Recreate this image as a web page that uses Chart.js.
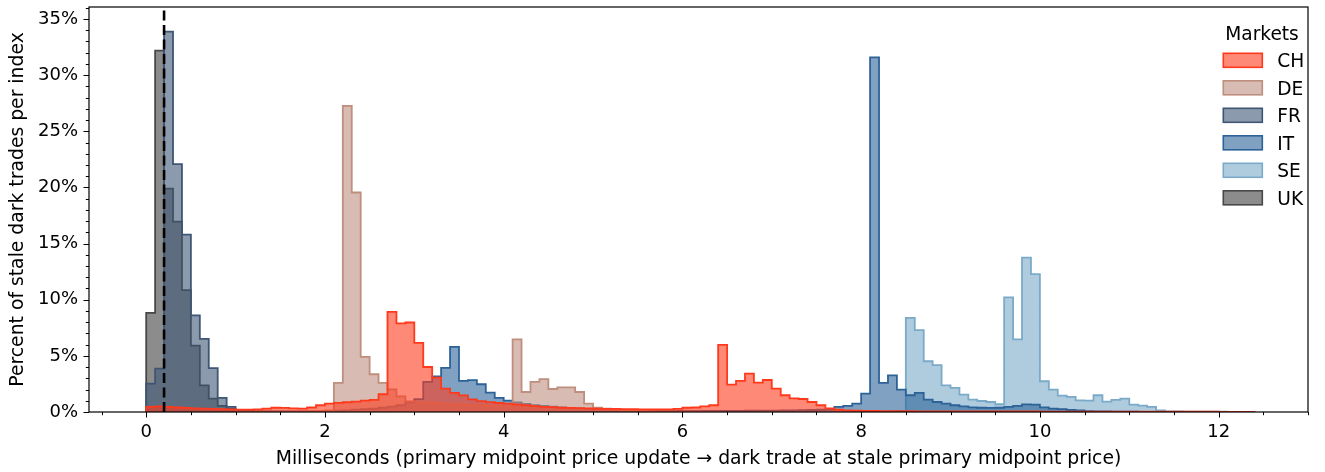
<!DOCTYPE html>
<html lang="en">
<head>
<meta charset="UTF-8" />
<title>Stale dark trades per index</title>
<script src="https://cdn.jsdelivr.net/npm/chart.js@4.4.0/dist/chart.umd.min.js"></script>
<style>
*{box-sizing:border-box}
body{margin:0;background:#fff}
#wrap{width:1325px;height:472px}
canvas{display:block}
</style>
</head>
<body>
<div id="wrap"><canvas id="hist" width="1325" height="472"></canvas></div>

<script>
/* ---------- data: % of stale dark trades per 0.1 ms bin ---------- */
const BIN_MS = 0.1;
const MARKETS  = ['CH','DE','FR','IT','SE','UK'];
const START_MS = [0, 1.0, 0, 1.0, 8.0, 0];   // left edge of the first bin of each array

const CH = [
  0.45,0.5,0.45,0.4,0.36,0.32,0.3,0.28,0.26,0.24,
  0.22,0.22,0.24,0.3,0.38,0.37,0.33,0.3,0.4,0.6,
  0.75,0.82,0.87,0.92,1.02,1.08,1.58,8.92,7.89,7.97,
  6.15,4.01,3.07,2.08,1.7,1.48,1.12,0.97,0.88,0.8,
  0.74,0.67,0.6,0.52,0.46,0.44,0.38,0.36,0.35,0.33,
  0.3,0.28,0.27,0.26,0.25,0.24,0.24,0.23,0.23,0.28,
  0.38,0.4,0.5,0.6,5.98,2.44,2.77,3.42,2.62,2.85,
  2.09,1.49,1.22,1.16,0.89,0.6,0.33,0.2,0.14,0.11,
  0.1,0.09,0.08,0.08,0.07,0.07,0.06,0.06,0.06,0.05,
  0.05,0.05,0.05,0.05,0.05,0.05,0.05,0.05,0.05,0.05,
  0.04,0.04,0.04,0.04,0.04,0.04,0.04,0.04,0.04,0.04,
  0.03,0.03,0.03,0.03,0.03,0.03,0.03,0.03,0.03,0.03,
  0.02,0.02,0.02,0.02
];
const DE = [
  0.02,0.02,0.03,0.03,0.04,0.04,0.05,0.06,0.08,0.1,
  0.15,2.59,27.27,19.55,4.91,3.36,2.59,2.02,1.4,0.95,
  0.9,0.85,0.8,0.75,0.7,0.65,0.62,0.6,0.58,0.55,
  0.55,6.46,1.78,2.68,2.92,2.05,2.2,2.2,1.78,0.75,
  0.38,0.3,0.22,0.16,0.12,0.1,0.08,0.06,0.05,0.04,
  0.03,0.03,0.02,0.02
];
const FR = [
  2.53,3.87,33.87,22.07,15.79,8.6,6.51,3.9,1.25,0.45,
  0.18,0.1,0.06,0.05,0.04,0.03,0.03,0.02,0.02,0.02
];
const IT = [
  0.01,0.01,0.02,0.02,0.03,0.03,0.04,0.05,0.06,0.08,
  0.1,0.12,0.15,0.2,0.25,0.3,0.38,0.48,0.6,0.85,
  1.15,2.68,3.18,3.93,5.8,2.77,2.83,2.47,1.73,1.25,
  1.02,0.85,0.72,0.62,0.54,0.48,0.42,0.37,0.32,0.28,
  0.24,0.21,0.18,0.16,0.14,0.12,0.11,0.1,0.1,0.1,
  0.1,0.1,0.1,0.1,0.1,0.1,0.1,0.11,0.12,0.12,
  0.13,0.14,0.15,0.16,0.18,0.2,0.22,0.45,0.54,0.75,
  1.64,31.58,2.59,3.27,2.0,1.49,1.7,1.1,0.89,0.75,
  0.6,0.5,0.42,0.38,0.36,0.38,0.45,0.55,0.68,0.66,
  0.42,0.3,0.26,0.18,0.14,0.08,0.06,0.05,0.04,0.03,
  0.03,0.02,0.02
];
const SE = [
  0.02,0.03,0.04,0.06,0.1,8.39,7.29,4.52,4.17,2.38,
  2.14,1.55,1.1,0.98,0.89,0.69,10.2,6.46,13.74,12.28,
  2.74,2.0,1.46,1.34,1.04,1.01,1.49,0.92,1.08,1.19,
  0.66,0.57,0.45,0.15,0.06,0.05,0.04,0.04,0.03,0.03,
  0.03,0.02,0.02,0.02
];
const UK = [
  8.83,32.18,19.9,16.95,10.86,5.92,2.38,1.19,0.55,0.28,
  0.12,0.07,0.05,0.04,0.03,0.03,0.02,0.02
];
const SERIES = [CH, DE, FR, IT, SE, UK];

const MEDIAN_MS = 0.2;                       // dashed reference line
const X_LABELS = [0,2,4,6,8,10,12];
const Y_LABELS = [0,5,10,15,20,25,30,35];
const X_MIN = -0.64, X_MAX = 13.0, Y_MAX = 36.07;

/* ---------- styles ---------- */
const EDGE = ['rgb(255,58,28)','rgb(190,142,126)','rgb(62,86,116)','rgb(44,98,152)','rgb(122,170,200)','rgb(72,72,72)'];
const FILL = ['rgba(255,58,28,.6)','rgba(190,142,126,.6)','rgba(62,86,116,.6)','rgba(44,98,152,.6)','rgba(122,170,200,.6)','rgba(64,64,64,.6)'];

/* step outline of a histogram: (edge, value) pairs closed down to zero */
function steps(vals, start){
  const pts=[{x:start,y:0}];
  vals.forEach((v,i)=>pts.push({x:+(start+i*BIN_MS).toFixed(2),y:v}));
  pts.push({x:+(start+vals.length*BIN_MS).toFixed(2),y:0});
  return pts;
}

// lower order is painted last, so CH ends up on top as in the original
const datasets = MARKETS.map((m,i)=>({
  label:m, data:steps(SERIES[i],START_MS[i]),
  stepped:'before', fill:'origin',
  borderColor:EDGE[i], backgroundColor:FILL[i], borderWidth:1.8,
  pointRadius:0, order:i
}));
datasets.push({
  label:'median', data:[{x:MEDIAN_MS,y:0},{x:MEDIAN_MS,y:Y_MAX}],
  borderColor:'#000', borderWidth:2.6, borderDash:[10,4.5], fill:false, pointRadius:0, order:-1
});

/* frame, ticks (major/minor) and legend drawn over the bars */
const frameAndLegend={
  id:'frameAndLegend',
  afterDatasetsDraw(chart){
    const {ctx,chartArea:a,scales:{x,y}}=chart;
    ctx.save();
    ctx.strokeStyle='#000';ctx.lineWidth=1.2;
    ctx.strokeRect(a.left,a.top,a.right-a.left,a.bottom-a.top);
    ctx.lineWidth=1;
    x.ticks.forEach(t=>{
      if(t.value<X_MIN||t.value>X_MAX)return;
      const px=Math.round(x.getPixelForValue(t.value))+.5, len=X_LABELS.includes(t.value)?5.5:3.2;
      ctx.beginPath();ctx.moveTo(px,a.bottom);ctx.lineTo(px,a.bottom+len);ctx.stroke();
    });
    y.ticks.forEach(t=>{
      if(t.value>Y_MAX)return;
      const py=Math.round(y.getPixelForValue(t.value))+.5, len=Y_LABELS.includes(t.value)?5.5:3.2;
      ctx.beginPath();ctx.moveTo(a.left,py);ctx.lineTo(a.left-len,py);ctx.stroke();
    });

    // legend
    const lx=a.right-84.7, ty=a.top+46.3, dy=27.5;
    ctx.font='18.6px "DejaVu Sans"';ctx.fillStyle='#000';
    ctx.textAlign='center';ctx.textBaseline='alphabetic';
    ctx.fillText('Markets',a.right-46,a.top+33);
    ctx.textAlign='left';
    MARKETS.forEach((m,i)=>{
      const top=ty+i*dy;
      ctx.fillStyle=FILL[i];ctx.fillRect(lx,top,39,14);
      ctx.strokeStyle=EDGE[i];ctx.lineWidth=1.6;ctx.strokeRect(lx,top,39,14);
      ctx.fillStyle='#000';ctx.fillText(m,lx+54,top+14);
    });
    ctx.restore();
  }
};

Chart.defaults.font.family='"DejaVu Sans"';
Chart.defaults.font.size=18;
Chart.defaults.color='#000';

new Chart(document.getElementById('hist'),{
  type:'line',
  data:{datasets},
  plugins:[frameAndLegend],
  options:{
    responsive:false, animation:false,
    layout:{padding:{top:7,right:17,left:0,bottom:0}},
    plugins:{legend:{display:false},tooltip:{enabled:false}},
    elements:{line:{tension:0}},
    scales:{
      x:{type:'linear',min:X_MIN,max:X_MAX,
        afterFit:s=>{s.height=60;s.paddingLeft=0;s.paddingRight=0},
        border:{display:false},
        grid:{drawOnChartArea:false,tickLength:5,tickColor:'rgba(0,0,0,0)'},
        ticks:{stepSize:0.5,includeBounds:false,autoSkip:false,maxRotation:0,padding:5,
               callback:v=>X_LABELS.includes(v)?String(v):''},
        title:{display:true,text:'Milliseconds (primary midpoint price update \u2192 dark trade at stale primary midpoint price)',
               font:{size:18.8},padding:{top:0,bottom:2}}},
      y:{min:0,max:Y_MAX,
        afterFit:s=>{s.width=89;s.paddingTop=0;s.paddingBottom=0},
        border:{display:false},
        grid:{drawOnChartArea:false,tickLength:5,tickColor:'rgba(0,0,0,0)'},
        ticks:{stepSize:1,includeBounds:false,autoSkip:false,padding:6,
               callback:v=>Y_LABELS.includes(v)?v+'%':''},
        title:{display:true,text:'Percent of stale dark trades per index',font:{size:18.8},padding:{top:7,bottom:0}}}
    }
  }
});
</script>
</body>
</html>
